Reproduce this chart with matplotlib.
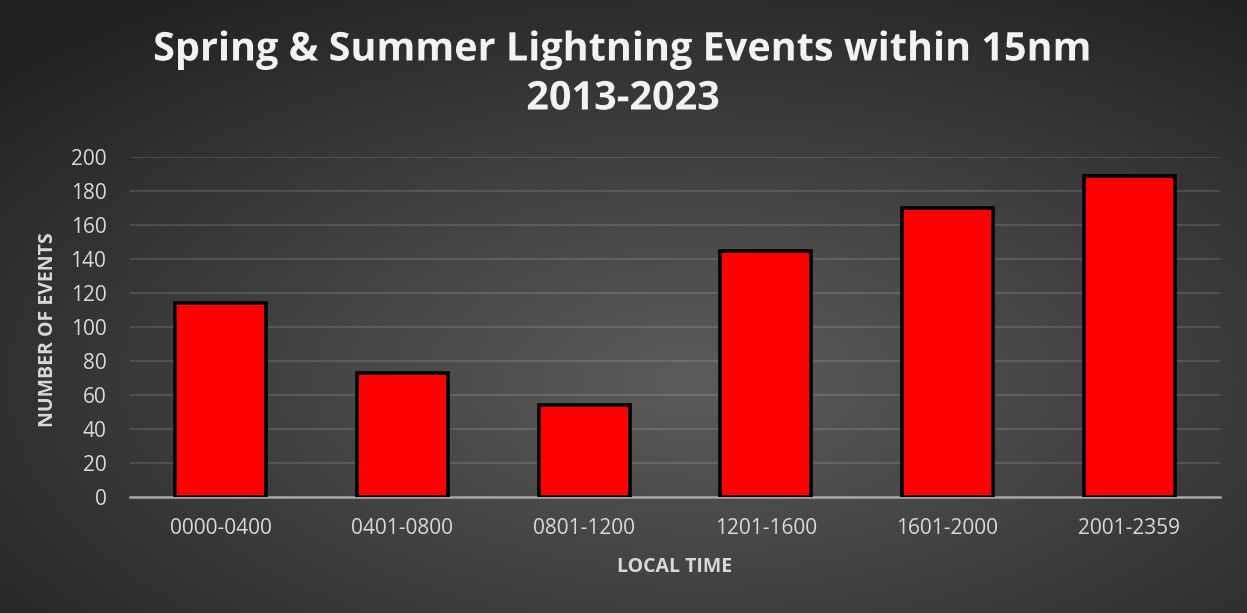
import numpy as np
import matplotlib
matplotlib.use("Agg")
import matplotlib.pyplot as plt
import matplotlib.patheffects as pe

categories = ["0000-0400", "0401-0800", "0801-1200", "1201-1600", "1601-2000", "2001-2359"]
events = [114, 73, 54, 145, 170, 189]
yticks = [0, 20, 40, 60, 80, 100, 120, 140, 160, 180, 200]

W, H = 1247, 613
fig = plt.figure(figsize=(W / 100, H / 100), dpi=100)

# radial gradient background
bg = fig.add_axes([0, 0, 1, 1], zorder=0)
yy, xx = np.mgrid[0:H, 0:W]
cx, cy = 700, 380
r = np.sqrt(((xx - cx) / W) ** 2 + ((yy - cy) / H) ** 2)
r = np.clip(r / 0.75, 0, 1)
inner = np.array([0x5c, 0x5c, 0x5c]) / 255
outer = np.array([0x22, 0x22, 0x22]) / 255
img = inner[None, None, :] * (1 - r[..., None]) + outer[None, None, :] * r[..., None]
bg.imshow(img, aspect="auto", extent=[0, W, H, 0])
bg.axis("off")

ax = fig.add_axes([130 / W, 1 - 497 / H, 1090 / W, 340 / H], zorder=1)
ax.patch.set_alpha(0)
x = np.arange(len(categories))
bars = ax.bar(x, events, width=0.5, color="#ff0000", edgecolor="#000000", linewidth=2.6, zorder=3)
for b in bars:
    b.set_path_effects([pe.SimplePatchShadow(offset=(0, 0), shadow_rgbFace="black", alpha=0.35), pe.Normal()])

ax.set_xlim(-0.5, len(categories) - 0.5)
ax.set_ylim(0, 200)
ax.set_yticks(yticks)
ax.set_xticks(x)
ax.set_xticklabels(categories)
ax.yaxis.grid(True, color="#ffffff", alpha=0.15, linewidth=1.2, zorder=0)
ax.set_axisbelow(True)
for s in ["top", "right", "left"]:
    ax.spines[s].set_visible(False)
ax.spines["bottom"].set_color("#a6a6a6")
ax.spines["bottom"].set_linewidth(1.8)
ax.spines["bottom"].set_zorder(2)
ax.tick_params(axis="both", length=0, colors="#d9d9d9", labelsize=15)
ax.tick_params(axis="x", pad=15)
ax.tick_params(axis="y", pad=17)
for lab in ax.get_xticklabels() + ax.get_yticklabels():
    lab.set_fontfamily("Open Sans")
    lab.set_color("#d9d9d9")

fig.text(48 / W, 1 - 330 / H, "NUMBER OF EVENTS", rotation=90, ha="center", va="center",
         color="#d9d9d9", fontsize=14, fontweight="bold", family="Open Sans")
fig.text(675 / W, 1 - 567 / H, "LOCAL TIME", ha="center", va="center",
         color="#d9d9d9", fontsize=14, fontweight="bold", family="Open Sans")

t1 = fig.text(623 / W, 1 - 50 / H, "Spring & Summer Lightning Events within 15nm", ha="center", va="center",
              color="#f2f2f2", fontsize=28.5, fontweight="bold", family="Open Sans")
t2 = fig.text(623 / W, 1 - 99 / H, "2013-2023", ha="center", va="center",
              color="#f2f2f2", fontsize=28.5, fontweight="bold", family="Open Sans")
for t in (t1, t2):
    t.set_path_effects([pe.SimpleLineShadow(offset=(1.5, -1.5), shadow_color="black", alpha=0.5), pe.Normal()])

fig.savefig("out.png", dpi=100)
